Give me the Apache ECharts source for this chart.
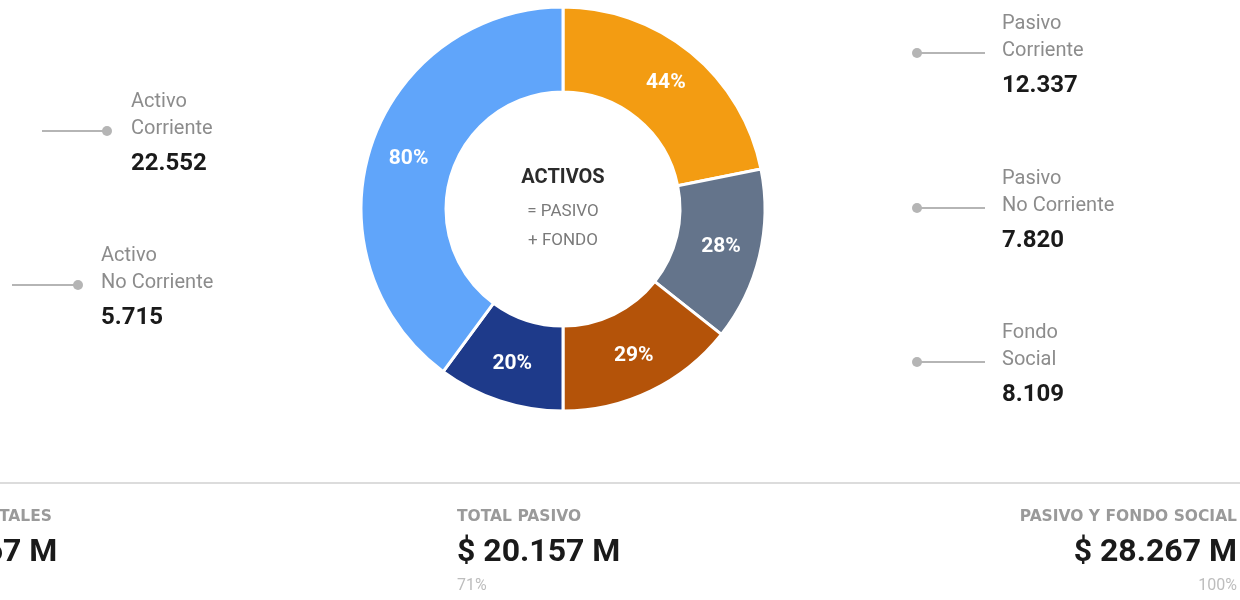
<!DOCTYPE html>
<html>
<head>
<meta charset="utf-8">
<style>
  html, body { margin: 0; padding: 0; background: #fff; }
  #main { width: 1240px; height: 600px; }
</style>
<script src="https://cdn.jsdelivr.net/npm/echarts@6/dist/echarts.min.js"></script>
</head>
<body>
<div id="main"></div>
<script>
// datos del balance (millones)
var sliceNames = ['Pasivo Corriente', 'Pasivo No Corriente', 'Fondo Social', 'Activo No Corriente', 'Activo Corriente'];
var sliceValues = [12.337, 7.820, 8.109, 5.715, 22.552];
var sliceGroups = ['pasivo', 'pasivo', 'pasivo', 'activo', 'activo'];
var sliceColors = ['#f39c12', '#64748b', '#b45309', '#1e3a8a', '#60a5fa'];

// indicadores de abajo
var kpiTitles = ['ACTIVOS TOTALES', 'TOTAL PASIVO', 'PASIVO Y FONDO SOCIAL'];
var kpiValues = ['$ 28.267 M', '$ 20.157 M', '$ 28.267 M'];
var kpiPercents = ['100%', '71%', '100%'];

// total por grupo para el % de cada mitad
var groupTotals = {};
sliceValues.forEach(function (v, i) {
  groupTotals[sliceGroups[i]] = (groupTotals[sliceGroups[i]] || 0) + v;
});

var FONT = 'Roboto, "Noto Sans", sans-serif';
var graphics = [];

// posiciones de las etiquetas laterales (mismo orden que sliceNames)
var annoPos = [
  { textX: 1002, y: 22, dotX: 917, lineEnd: 985 },
  { textX: 1002, y: 177, dotX: 917, lineEnd: 985 },
  { textX: 1002, y: 331, dotX: 917, lineEnd: 985 },
  { textX: 101, y: 254, dotX: 78, lineEnd: 12 },
  { textX: 131, y: 100, dotX: 107, lineEnd: 42 }
];

sliceNames.forEach(function (name, i) {
  var p = annoPos[i];
  var words = name.split(' ');
  var label = words[0] + '\n' + words.slice(1).join(' ');
  var lineY = p.y + 31;
  graphics.push({
    type: 'line', silent: true,
    shape: { x1: Math.min(p.dotX, p.lineEnd), y1: lineY, x2: Math.max(p.dotX, p.lineEnd), y2: lineY },
    style: { stroke: '#b5b5b5', lineWidth: 2 }
  });
  graphics.push({
    type: 'circle', silent: true,
    shape: { cx: p.dotX, cy: lineY, r: 5 },
    style: { fill: '#b5b5b5' }
  });
  graphics.push({
    type: 'text', silent: true, x: p.textX, y: p.y - 12,
    style: { text: label, font: '20px ' + FONT, fill: '#8c8c8c', lineHeight: 27, textAlign: 'left', textVerticalAlign: 'top' }
  });
  graphics.push({
    type: 'text', silent: true, x: p.textX, y: p.y + 64,
    style: { text: sliceValues[i].toFixed(3), font: 'bold 24px ' + FONT, fill: '#1a1a1a', textAlign: 'left', textVerticalAlign: 'middle' }
  });
});

// texto central
graphics.push({
  type: 'text', silent: true, x: 563, y: 178,
  style: { text: 'ACTIVOS', font: 'bold 20px ' + FONT, fill: '#2b2b2b', textAlign: 'center', textVerticalAlign: 'middle' }
});
graphics.push({
  type: 'text', silent: true, x: 563, y: 212,
  style: { text: '= PASIVO', font: '17px ' + FONT, fill: '#7a7a7a', textAlign: 'center', textVerticalAlign: 'middle' }
});
graphics.push({
  type: 'text', silent: true, x: 563, y: 241,
  style: { text: '+ FONDO', font: '17px ' + FONT, fill: '#7a7a7a', textAlign: 'center', textVerticalAlign: 'middle' }
});

// separador
graphics.push({
  type: 'line', silent: true,
  shape: { x1: 0, y1: 483, x2: 1240, y2: 483 },
  style: { stroke: '#dcdcdc', lineWidth: 2 }
});

var kpiPos = [
  { x: -106, align: 'left' },
  { x: 457, align: 'left' },
  { x: 1237, align: 'right' }
];
kpiTitles.forEach(function (t, i) {
  var p = kpiPos[i];
  graphics.push({
    type: 'text', silent: true, x: p.x, y: 517,
    style: { text: t, font: 'bold 15.5px "DejaVu Sans", sans-serif', fill: '#9a9a9a', textAlign: p.align, textVerticalAlign: 'middle' }
  });
  graphics.push({
    type: 'text', silent: true, x: p.x, y: 553,
    style: { text: kpiValues[i], font: 'bold 32px ' + FONT, fill: '#1a1a1a', textAlign: p.align, textVerticalAlign: 'middle' }
  });
  graphics.push({
    type: 'text', silent: true, x: p.x, y: 586,
    style: { text: kpiPercents[i], font: '16px ' + FONT, fill: '#bdbdbd', textAlign: p.align, textVerticalAlign: 'middle' }
  });
});

var option = {
  backgroundColor: '#ffffff',
  animation: false,
  series: [{
    type: 'pie',
    center: [563, 209],
    radius: [117, 202],
    startAngle: 90,
    clockwise: true,
    avoidLabelOverlap: false,
    itemStyle: { borderColor: '#ffffff', borderWidth: 3 },
    label: {
      show: true,
      position: 'inside',
      color: '#ffffff',
      fontFamily: FONT,
      fontWeight: 'bold',
      fontSize: 21,
      formatter: function (p) {
        return Math.round(p.value / groupTotals[sliceGroups[p.dataIndex]] * 100) + '%';
      }
    },
    labelLine: { show: false },
    emphasis: { disabled: true },
    data: sliceNames.map(function (n, i) {
      return { name: n, value: sliceValues[i], itemStyle: { color: sliceColors[i] } };
    })
  }],
  graphic: graphics
};

var chart = echarts.init(document.getElementById('main'));
chart.setOption(option);
</script>
</body>
</html>
